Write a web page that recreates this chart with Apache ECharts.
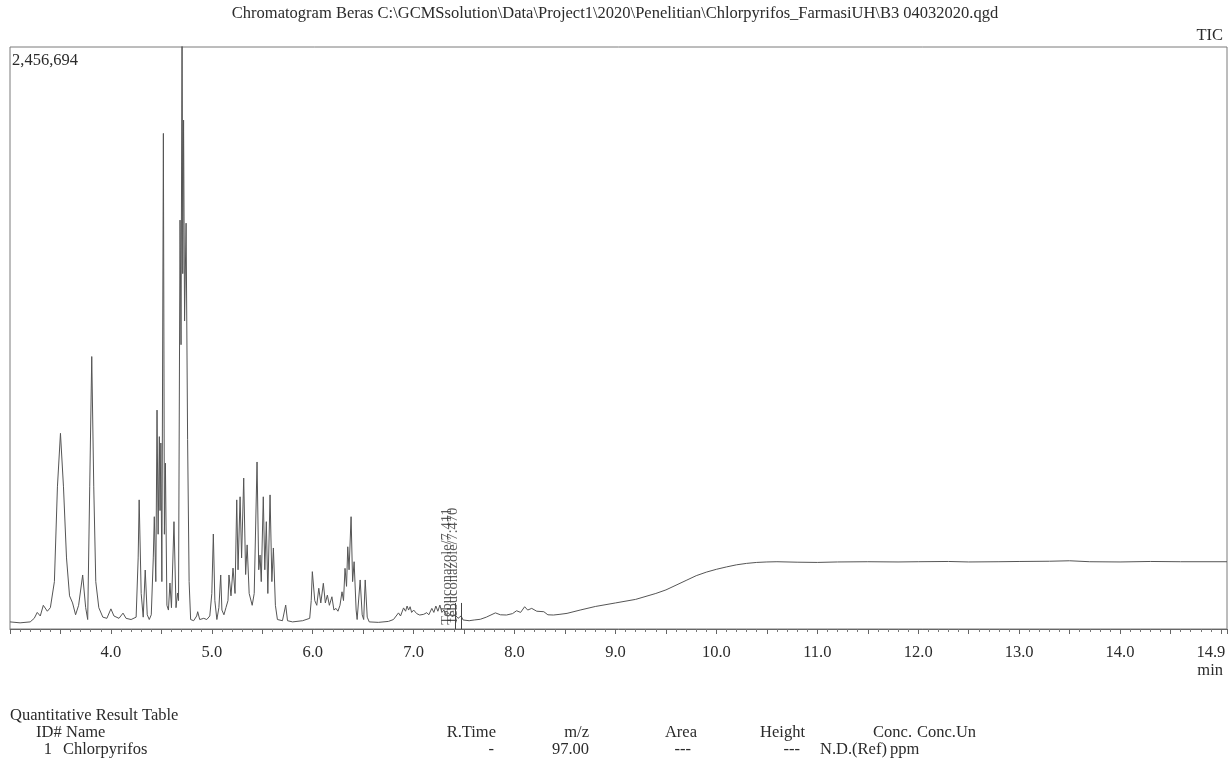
<!DOCTYPE html>
<html><head><meta charset="utf-8">
<script src="https://cdn.jsdelivr.net/npm/echarts/dist/echarts.min.js"></script>
<style>html,body{margin:0;padding:0;background:#fff}#c{width:1232px;height:764px}</style>
</head><body><div id="c"></div>
<script>
// ---- data ----
const retentionTimes = [
 3.00,3.10,3.20,3.24,3.27,3.30,3.33,3.37,3.40,3.44,3.47,3.50,3.53,3.56,3.59,3.62,3.65,3.68,3.72,3.75,3.77,3.79,3.81,3.83,3.85,3.88,3.92,3.96,
 4.00,4.03,4.08,4.12,4.15,4.20,4.25,4.27,4.28,4.30,4.32,4.34,4.36,4.38,4.40,4.42,4.43,4.445,4.457,4.468,4.48,4.487,4.495,4.505,4.52,4.53,4.54,4.555,4.57,4.585,4.60,4.625,4.645,4.66,4.67,4.685,4.695,4.705,4.712,4.72,4.73,4.745,4.76,4.775,4.79,4.82,4.85,4.86,4.88,4.92,4.95,4.98,
 5.00,5.015,5.03,5.05,5.07,5.088,5.10,5.12,5.14,5.16,5.17,5.19,5.21,5.23,5.247,5.26,5.28,5.295,5.316,5.335,5.35,5.37,5.40,5.42,5.448,5.465,5.478,5.49,5.51,5.525,5.54,5.555,5.577,5.595,5.61,5.63,5.65,5.70,5.732,5.75,5.80,5.90,5.97,5.985,
 5.996,6.02,6.04,6.06,6.08,6.105,6.125,6.145,6.165,6.19,6.21,6.23,6.25,6.27,6.29,6.305,6.32,6.335,6.347,6.36,6.38,6.395,6.41,6.43,6.44,6.47,6.49,6.505,6.52,6.54,6.56,6.65,6.75,6.80,6.85,6.87,6.90,6.92,6.935,6.95,6.965,6.98,
 7.00,7.03,7.06,7.10,7.13,7.15,7.18,7.20,7.22,7.24,7.26,7.28,7.30,7.32,7.34,7.38,7.41,7.44,7.47,7.49,7.55,7.60,7.66,7.72,7.81,7.86,7.92,7.98,
 8.02,8.06,8.10,8.13,8.17,8.22,8.29,8.33,8.385,8.45,8.52,8.65,8.80,9.00,9.20,9.40,9.50,9.60,9.70,9.80,9.90,10.00,10.10,10.20,10.30,10.40,10.50,10.60,
 10.80,11.00,11.20,11.50,11.80,12.00,12.30,12.50,12.80,13.00,13.30,13.50,13.70,14.00,14.30,14.60,15.06
];
const intensities = [
 30000,26000,30000,45000,70000,55000,100000,75000,90000,200000,600000,826000,600000,300000,140000,110000,60000,100000,228000,90000,40000,600000,1150000,600000,200000,90000,50000,45000,
 85000,55000,45000,67000,45000,40000,50000,300000,545000,150000,50000,249000,60000,40000,60000,300000,474000,200000,924000,400000,812000,500000,785000,200000,2092000,400000,700000,100000,80000,194000,90000,453000,90000,152000,120000,1726000,1200000,2600000,1500000,2148000,1300000,1713000,800000,200000,40000,35000,55000,73000,40000,45000,40000,55000,
 150000,401000,120000,40000,90000,228000,80000,60000,90000,120000,228000,140000,257000,150000,545000,250000,558000,300000,637000,230000,355000,150000,100000,150000,705000,250000,312000,200000,558000,250000,453000,150000,566000,200000,342000,100000,40000,35000,101000,35000,30000,35000,45000,120000,
 242000,120000,100000,172000,110000,193000,110000,143000,100000,136000,80000,87000,75000,100000,157000,120000,256000,180000,347000,250000,474000,200000,284000,80000,40000,207000,60000,40000,207000,50000,30000,28000,32000,40000,68000,55000,89000,75000,97000,80000,94000,70000,
 80000,65000,59000,62000,69000,60000,87000,70000,97000,75000,101000,70000,80000,60000,69000,52000,60000,45000,55000,38000,35000,38000,41000,50000,68000,60000,59000,65000,
 77000,70000,94000,80000,87000,75000,73000,60000,59000,62000,66000,80000,95000,110000,125000,150000,165000,185000,205000,225000,240000,252000,262000,271000,277000,281000,283000,284000,
 282000,281000,283000,284000,283000,284000,285000,283000,284000,285000,286000,288000,284000,283000,285000,284000,284000
];
const yMaxCounts = 2456694;
const xTickLabels = [4.0,5.0,6.0,7.0,8.0,9.0,10.0,11.0,12.0,13.0,14.0,14.9];
const peakTimes = [7.411, 7.470];
const peakNames = ['Tebuconazole/7.411', 'Tebuconazole/7.470'];
const titleText = 'Chromatogram Beras C:\\GCMSsolution\\Data\\Project1\\2020\\Penelitian\\Chlorpyrifos_FarmasiUH\\B3 04032020.qgd';
const tableTitle = 'Quantitative Result Table';
const tableColumns = ['ID#','Name','R.Time','m/z','Area','Height','Conc.','Conc.Un'];
const tableRow = ['1','Chlorpyrifos','-','97.00','---','---','N.D.(Ref)','ppm'];

// ---- layout ----
const FONT = "'Liberation Serif', 'DejaVu Serif', serif";
const FS = 16.5;
const TXT = '#2b2b2b';
const chart = echarts.init(document.getElementById('c'), null, {renderer: 'canvas'});

const headerPos = [[36,'left'],[66,'left'],[496,'right'],[589,'right'],[697,'right'],[805,'right'],[912,'right'],[917,'left']];
const rowPos    = [[52,'right'],[63,'left'],[494,'right'],[589,'right'],[691,'right'],[800,'right'],[820,'left'],[890,'left']];

function txt(x, y, s, align, size) {
  return {type:'text', x:x, y:y, style:{text:s, font:(size||FS) + 'px ' + FONT, fill:TXT, textAlign:align||'left', textVerticalAlign:'middle'}};
}
const graphics = [
  txt(615, 14, titleText, 'center'),
  txt(1223, 36, 'TIC', 'right'),
  txt(12, 61, yMaxCounts.toLocaleString('en-US'), 'left'),
  txt(1223, 671, 'min', 'right'),
  txt(10, 716, tableTitle, 'left')
];
tableColumns.forEach((s,i)=>graphics.push(txt(headerPos[i][0], 733, s, headerPos[i][1])));
tableRow.forEach((s,i)=>graphics.push(txt(rowPos[i][0], 750, s, rowPos[i][1])));

const option = {
  animation: false,
  backgroundColor: '#fff',
  grid: {left: 10, right: 5, top: 47, bottom: 135, show: true, borderColor: '#7a7a7a', borderWidth: 1, backgroundColor: 'transparent'},
  xAxis: {
    type: 'value', min: 3.0, max: 15.06, interval: 0.5,
    axisLine: {show: true, onZero: false, lineStyle: {color: '#666', width: 1}},
    axisTick: {show: true, length: 5, lineStyle: {color: '#666'}},
    minorTick: {show: true, splitNumber: 5, length: 3, lineStyle: {color: '#777'}},
    axisLabel: {customValues: xTickLabels, formatter: v => v.toFixed(1), fontFamily: FONT, fontSize: FS, color: TXT, margin: 15},
    splitLine: {show: false}, minorSplitLine: {show: false}
  },
  yAxis: {type: 'value', min: 0, max: yMaxCounts, axisLine: {show: false}, axisTick: {show: false}, axisLabel: {show: false}, splitLine: {show: false}},
  graphic: graphics,
  series: [
    {
      type: 'line', data: retentionTimes.map((t, i) => [t, intensities[i]]),
      symbol: 'none', showSymbol: false, clip: true,
      lineStyle: {color: '#555', width: 1},
      markLine: {
        symbol: 'none', silent: true, label: {show: false},
        lineStyle: {color: '#444', width: 1, type: 'solid'},
        data: peakTimes.map(t => [{coord: [t, 0]}, {coord: [t, 110000]}])
      }
    },
    {
      type: 'scatter', data: peakTimes.map(t => [t, 16000]), symbolSize: 1,
      itemStyle: {color: 'rgba(0,0,0,0)'}, silent: true,
      label: {show: true, position: [0, 0], rotate: 90, align: 'left', verticalAlign: 'bottom',
        formatter: p => peakNames[p.dataIndex], fontFamily: FONT, fontSize: 14.5, color: '#333'}
    }
  ]
};
chart.setOption(option);
</script></body></html>
